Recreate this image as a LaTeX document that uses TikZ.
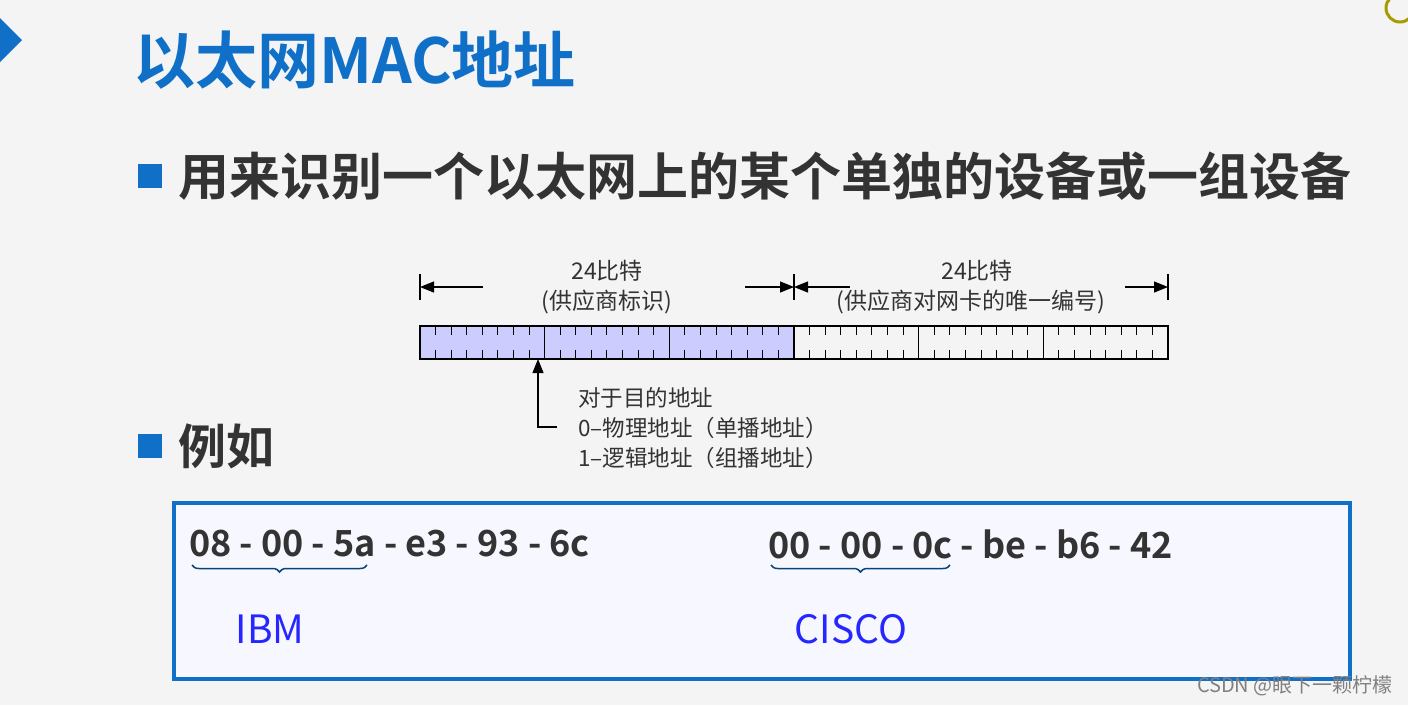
\documentclass[tikz,border=0pt]{standalone}
\usepackage{fontspec}
\setmainfont{Noto Sans CJK SC}[BoldFont={Noto Sans CJK SC Bold}]
\usetikzlibrary{arrows.meta,decorations.pathreplacing}
\definecolor{tblue}{HTML}{1070C8}
\definecolor{bgray}{HTML}{F4F4F4}
\definecolor{bitshade}{HTML}{CCCCFF}
\definecolor{txt}{HTML}{333333}
\tikzset{lab/.style={font=\fontsize{23}{26}\selectfont,text=txt,inner sep=0pt},
 note/.style={font=\fontsize{22.5}{26}\selectfont,text=txt,inner sep=0pt,anchor=west},
 big/.style={font=\fontsize{48}{52}\selectfont\bfseries,text=txt,anchor=west,inner sep=0pt},
 mac/.style={font=\fontsize{36}{40}\selectfont\bfseries,text=txt,anchor=west,inner sep=0pt},
 ven/.style={font=\fontsize{39}{42}\selectfont,text=blue!85!white,inner sep=0pt},
 arr/.style={-{Triangle[length=14pt,width=11pt]},line width=1.2pt}}
\begin{document}
\begin{tikzpicture}[x=1pt,y=-1pt]
\fill[bgray] (0,0) rectangle (1408,705);
\useasboundingbox (0,0) rectangle (1408,705);
% decorations
\fill[tblue] (0,18) -- (22,40) -- (0,62) -- cycle;
\draw[olive!80!yellow,line width=3pt] (1400,8) circle (14);
% title
\node[anchor=west,inner sep=0pt,font=\fontsize{62}{66}\selectfont\bfseries,text=tblue] (title) at (133,60) {以太网MAC地址};
% bullets
\fill[tblue] (138,164) rectangle (162,188);
\node[big,font=\fontsize{51}{55}\selectfont\bfseries] (b1) at (178,176) {用来识别一个以太网上的某个单独的设备或一组设备};
\fill[tblue] (138,434) rectangle (162,458);
\node[big] (b2) at (178,446) {例如};
% bit field
\fill[bitshade] (420,326) rectangle (794,359);
\foreach \i in {0,...,5}{
  \draw[line width=1.2pt] ({420+\i*124.67},326) rectangle ({420+(\i+1)*124.67},359);
  \foreach \j in {1,...,7}{
    \draw[line width=1pt] ({420+\i*124.67+\j*15.58},326) -- ++(0,9);
    \draw[line width=1pt] ({420+\i*124.67+\j*15.58},359) -- ++(0,-9);
  }
}
\coordinate (L) at (420,287); \coordinate (M) at (794,287); \coordinate (R) at (1168,287);
\draw[line width=1.2pt] (420,274) -- (420,300);
\draw[line width=1.2pt] (794,274) -- (794,300);
\draw[line width=1.2pt] (1168,274) -- (1168,300);
\coordinate (a1) at (483,287); \coordinate (a2) at (745,287);
\coordinate (a3) at (850,287); \coordinate (a4) at (1125,287);
\draw[arr] (a1) -- (L);
\draw[arr] (a2) -- (M);
\draw[arr] (a3) -- (M);
\draw[arr] (a4) -- (R);
\node[lab] (t1) at (607,271) {24比特};
\node[lab] (t2) at (607,302) {(供应商标识)};
\node[lab] (t3) at (977,271) {24比特};
\node[lab] (t4) at (971,302) {(供应商对网卡的唯一编号)};
\coordinate (p0) at (557,427); \coordinate (p1) at (538,427); \coordinate (p2) at (538,359);
\draw[arr] (p0) -- (p1) -- (p2);
\node[note] (n1) at (578,398) {对于目的地址};
\node[note] (n2) at (578,428) {0–物理地址（单播地址）};
\node[note] (n3) at (578,458) {1–逻辑地址（组播地址）};
% example box
\draw[tblue,line width=4pt,fill=white!97!blue] (174,503) rectangle (1350,679);
\node[mac] (m1) at (189,544) {08 - 00 - 5a - e3 - 93 - 6c};
\node[mac] (m2) at (768,544) {00 - 00 - 0c - be - b6 - 42};
\draw[decorate,decoration={brace,mirror,amplitude=7pt},line width=1.5pt,tblue!60!black] (192,565) -- (367,565);
\draw[decorate,decoration={brace,mirror,amplitude=7pt},line width=1.5pt,tblue!60!black] (771,565) -- (950,565);
\node[ven] (ibm) at (270,629) {IBM};
\node[ven] (cisco) at (851,629) {CISCO};
\node[inner sep=0pt,font=\fontsize{20}{22}\selectfont,text=gray,anchor=east] (wm) at (1393,686) {CSDN @眼下一颗柠檬};
\end{tikzpicture}
\end{document}
